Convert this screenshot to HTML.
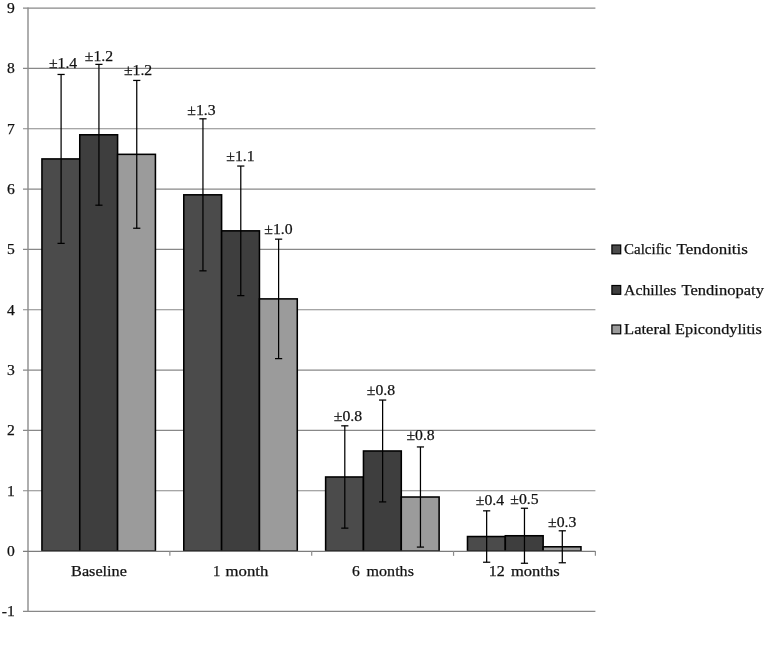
<!DOCTYPE html>
<html><head><meta charset="utf-8"><title>Chart</title>
<style>
html,body{margin:0;padding:0;background:#fff;overflow:hidden;}
svg{display:block;}
text{font-family:"Liberation Serif",serif;font-size:15.6px;fill:#111;stroke:#111;stroke-width:0.25px;}
</style></head><body>
<svg width="767" height="655" viewBox="0 0 767 655">
<rect width="767" height="655" fill="#fff"/>

<line x1="23.0" y1="611.40" x2="595.4" y2="611.40" stroke="#888888" stroke-width="1.15"/>
<line x1="23.0" y1="490.74" x2="595.4" y2="490.74" stroke="#888888" stroke-width="1.15"/>
<line x1="23.0" y1="430.41" x2="595.4" y2="430.41" stroke="#888888" stroke-width="1.15"/>
<line x1="23.0" y1="370.08" x2="595.4" y2="370.08" stroke="#888888" stroke-width="1.15"/>
<line x1="23.0" y1="309.75" x2="595.4" y2="309.75" stroke="#888888" stroke-width="1.15"/>
<line x1="23.0" y1="249.42" x2="595.4" y2="249.42" stroke="#888888" stroke-width="1.15"/>
<line x1="23.0" y1="189.09" x2="595.4" y2="189.09" stroke="#888888" stroke-width="1.15"/>
<line x1="23.0" y1="128.76" x2="595.4" y2="128.76" stroke="#888888" stroke-width="1.15"/>
<line x1="23.0" y1="68.43" x2="595.4" y2="68.43" stroke="#888888" stroke-width="1.15"/>
<line x1="23.0" y1="8.10" x2="595.4" y2="8.10" stroke="#888888" stroke-width="1.15"/>
<rect x="41.94" y="158.92" width="37.83" height="392.15" fill="#4b4b4b" stroke="#000" stroke-width="1.55"/>
<rect x="79.76" y="134.79" width="37.83" height="416.28" fill="#3e3e3e" stroke="#000" stroke-width="1.55"/>
<rect x="117.59" y="154.34" width="37.83" height="396.73" fill="#9b9b9b" stroke="#000" stroke-width="1.55"/>
<rect x="183.78" y="194.82" width="37.83" height="356.25" fill="#4b4b4b" stroke="#000" stroke-width="1.55"/>
<rect x="221.61" y="230.84" width="37.83" height="320.23" fill="#3e3e3e" stroke="#000" stroke-width="1.55"/>
<rect x="259.44" y="298.89" width="37.83" height="252.18" fill="#9b9b9b" stroke="#000" stroke-width="1.55"/>
<rect x="325.63" y="476.98" width="37.83" height="74.09" fill="#4b4b4b" stroke="#000" stroke-width="1.55"/>
<rect x="363.46" y="450.98" width="37.83" height="100.09" fill="#3e3e3e" stroke="#000" stroke-width="1.55"/>
<rect x="401.29" y="497.01" width="37.83" height="54.06" fill="#9b9b9b" stroke="#000" stroke-width="1.55"/>
<rect x="467.48" y="536.53" width="37.83" height="14.54" fill="#4b4b4b" stroke="#000" stroke-width="1.55"/>
<rect x="505.31" y="535.75" width="37.83" height="15.32" fill="#3e3e3e" stroke="#000" stroke-width="1.55"/>
<rect x="543.14" y="546.79" width="37.83" height="4.28" fill="#9b9b9b" stroke="#000" stroke-width="1.55"/>
<line x1="28.0" y1="7.50" x2="28.0" y2="612.00" stroke="#8c8c8c" stroke-width="1.4"/>
<line x1="23.0" y1="551.37" x2="595.4" y2="551.37" stroke="#7c7c7c" stroke-width="1.15"/>
<line x1="169.85" y1="551.07" x2="169.85" y2="555.87" stroke="#8c8c8c" stroke-width="1.2"/>
<line x1="311.70" y1="551.07" x2="311.70" y2="555.87" stroke="#8c8c8c" stroke-width="1.2"/>
<line x1="453.55" y1="551.07" x2="453.55" y2="555.87" stroke="#8c8c8c" stroke-width="1.2"/>
<line x1="595.40" y1="551.07" x2="595.40" y2="555.87" stroke="#8c8c8c" stroke-width="1.2"/>
<line x1="61.10" y1="74.46" x2="61.10" y2="243.39" stroke="#000" stroke-width="1.25"/>
<line x1="57.50" y1="74.46" x2="64.70" y2="74.46" stroke="#000" stroke-width="1.25"/>
<line x1="57.50" y1="243.39" x2="64.70" y2="243.39" stroke="#000" stroke-width="1.25"/>
<text x="63.05" y="67.90" text-anchor="middle" textLength="28.30" lengthAdjust="spacingAndGlyphs">±1.4</text>
<line x1="98.93" y1="64.39" x2="98.93" y2="205.20" stroke="#000" stroke-width="1.25"/>
<line x1="95.33" y1="64.39" x2="102.53" y2="64.39" stroke="#000" stroke-width="1.25"/>
<line x1="95.33" y1="205.20" x2="102.53" y2="205.20" stroke="#000" stroke-width="1.25"/>
<text x="98.90" y="60.60" text-anchor="middle" textLength="28.30" lengthAdjust="spacingAndGlyphs">±1.2</text>
<line x1="136.75" y1="80.44" x2="136.75" y2="228.24" stroke="#000" stroke-width="1.25"/>
<line x1="133.15" y1="80.44" x2="140.35" y2="80.44" stroke="#000" stroke-width="1.25"/>
<line x1="133.15" y1="228.24" x2="140.35" y2="228.24" stroke="#000" stroke-width="1.25"/>
<text x="138.05" y="74.70" text-anchor="middle" textLength="28.30" lengthAdjust="spacingAndGlyphs">±1.2</text>
<line x1="202.95" y1="118.81" x2="202.95" y2="270.84" stroke="#000" stroke-width="1.25"/>
<line x1="199.35" y1="118.81" x2="206.55" y2="118.81" stroke="#000" stroke-width="1.25"/>
<line x1="199.35" y1="270.84" x2="206.55" y2="270.84" stroke="#000" stroke-width="1.25"/>
<text x="201.40" y="115.20" text-anchor="middle" textLength="28.30" lengthAdjust="spacingAndGlyphs">±1.3</text>
<line x1="240.78" y1="166.04" x2="240.78" y2="295.63" stroke="#000" stroke-width="1.25"/>
<line x1="237.18" y1="166.04" x2="244.38" y2="166.04" stroke="#000" stroke-width="1.25"/>
<line x1="237.18" y1="295.63" x2="244.38" y2="295.63" stroke="#000" stroke-width="1.25"/>
<text x="240.50" y="160.90" text-anchor="middle" textLength="28.30" lengthAdjust="spacingAndGlyphs">±1.1</text>
<line x1="278.60" y1="239.16" x2="278.60" y2="358.62" stroke="#000" stroke-width="1.25"/>
<line x1="275.00" y1="239.16" x2="282.20" y2="239.16" stroke="#000" stroke-width="1.25"/>
<line x1="275.00" y1="358.62" x2="282.20" y2="358.62" stroke="#000" stroke-width="1.25"/>
<text x="278.50" y="234.20" text-anchor="middle" textLength="28.30" lengthAdjust="spacingAndGlyphs">±1.0</text>
<line x1="344.80" y1="425.82" x2="344.80" y2="528.14" stroke="#000" stroke-width="1.25"/>
<line x1="341.20" y1="425.82" x2="348.40" y2="425.82" stroke="#000" stroke-width="1.25"/>
<line x1="341.20" y1="528.14" x2="348.40" y2="528.14" stroke="#000" stroke-width="1.25"/>
<text x="347.90" y="421.20" text-anchor="middle" textLength="28.30" lengthAdjust="spacingAndGlyphs">±0.8</text>
<line x1="382.62" y1="400.06" x2="382.62" y2="501.90" stroke="#000" stroke-width="1.25"/>
<line x1="379.02" y1="400.06" x2="386.23" y2="400.06" stroke="#000" stroke-width="1.25"/>
<line x1="379.02" y1="501.90" x2="386.23" y2="501.90" stroke="#000" stroke-width="1.25"/>
<text x="381.00" y="394.50" text-anchor="middle" textLength="28.30" lengthAdjust="spacingAndGlyphs">±0.8</text>
<line x1="420.45" y1="446.94" x2="420.45" y2="547.09" stroke="#000" stroke-width="1.25"/>
<line x1="416.85" y1="446.94" x2="424.05" y2="446.94" stroke="#000" stroke-width="1.25"/>
<line x1="416.85" y1="547.09" x2="424.05" y2="547.09" stroke="#000" stroke-width="1.25"/>
<text x="420.60" y="440.00" text-anchor="middle" textLength="28.30" lengthAdjust="spacingAndGlyphs">±0.8</text>
<line x1="486.65" y1="510.83" x2="486.65" y2="562.23" stroke="#000" stroke-width="1.25"/>
<line x1="483.05" y1="510.83" x2="490.25" y2="510.83" stroke="#000" stroke-width="1.25"/>
<line x1="483.05" y1="562.23" x2="490.25" y2="562.23" stroke="#000" stroke-width="1.25"/>
<text x="489.90" y="505.30" text-anchor="middle" textLength="28.30" lengthAdjust="spacingAndGlyphs">±0.4</text>
<line x1="524.47" y1="508.24" x2="524.47" y2="563.26" stroke="#000" stroke-width="1.25"/>
<line x1="520.87" y1="508.24" x2="528.07" y2="508.24" stroke="#000" stroke-width="1.25"/>
<line x1="520.87" y1="563.26" x2="528.07" y2="563.26" stroke="#000" stroke-width="1.25"/>
<text x="524.40" y="503.90" text-anchor="middle" textLength="28.30" lengthAdjust="spacingAndGlyphs">±0.5</text>
<line x1="562.30" y1="530.80" x2="562.30" y2="562.77" stroke="#000" stroke-width="1.25"/>
<line x1="558.70" y1="530.80" x2="565.90" y2="530.80" stroke="#000" stroke-width="1.25"/>
<line x1="558.70" y1="562.77" x2="565.90" y2="562.77" stroke="#000" stroke-width="1.25"/>
<text x="562.20" y="526.70" text-anchor="middle" textLength="28.30" lengthAdjust="spacingAndGlyphs">±0.3</text>
<text x="14.8" y="616.40" text-anchor="end">-1</text>
<text x="14.8" y="556.07" text-anchor="end">0</text>
<text x="14.8" y="495.74" text-anchor="end">1</text>
<text x="14.8" y="435.41" text-anchor="end">2</text>
<text x="14.8" y="375.08" text-anchor="end">3</text>
<text x="14.8" y="314.75" text-anchor="end">4</text>
<text x="14.8" y="254.42" text-anchor="end">5</text>
<text x="14.8" y="194.09" text-anchor="end">6</text>
<text x="14.8" y="133.76" text-anchor="end">7</text>
<text x="14.8" y="73.43" text-anchor="end">8</text>
<text x="14.8" y="13.10" text-anchor="end">9</text>
<text y="575.90"><tspan x="71.10" textLength="55.80" lengthAdjust="spacingAndGlyphs">Baseline</tspan></text>
<text y="575.90"><tspan x="213.10" textLength="7.30" lengthAdjust="spacingAndGlyphs">1</tspan> <tspan x="225.60" textLength="42.80" lengthAdjust="spacingAndGlyphs">month</tspan></text>
<text y="575.90"><tspan x="352.10" textLength="7.80" lengthAdjust="spacingAndGlyphs">6</tspan> <tspan x="366.60" textLength="47.30" lengthAdjust="spacingAndGlyphs">months</tspan></text>
<text y="575.90"><tspan x="488.80" textLength="16.00" lengthAdjust="spacingAndGlyphs">12</tspan> <tspan x="511.00" textLength="48.60" lengthAdjust="spacingAndGlyphs">months</tspan></text>
<text y="254.00"><tspan x="624.10" textLength="47.30" lengthAdjust="spacingAndGlyphs">Calcific</tspan> <tspan x="676.60" textLength="71.30" lengthAdjust="spacingAndGlyphs">Tendonitis</tspan></text>
<text y="294.50"><tspan x="624.10" textLength="52.30" lengthAdjust="spacingAndGlyphs">Achilles</tspan> <tspan x="681.60" textLength="82.30" lengthAdjust="spacingAndGlyphs">Tendinopaty</tspan></text>
<text y="334.00"><tspan x="624.10" textLength="46.80" lengthAdjust="spacingAndGlyphs">Lateral</tspan> <tspan x="675.10" textLength="86.80" lengthAdjust="spacingAndGlyphs">Epicondylitis</tspan></text>
<rect x="611.9" y="245.00" width="8.8" height="8.8" fill="#4b4b4b" stroke="#000" stroke-width="1.2"/>
<rect x="611.9" y="285.50" width="8.8" height="8.8" fill="#3e3e3e" stroke="#000" stroke-width="1.2"/>
<rect x="611.9" y="325.00" width="8.8" height="8.8" fill="#9b9b9b" stroke="#000" stroke-width="1.2"/>
</svg></body></html>
